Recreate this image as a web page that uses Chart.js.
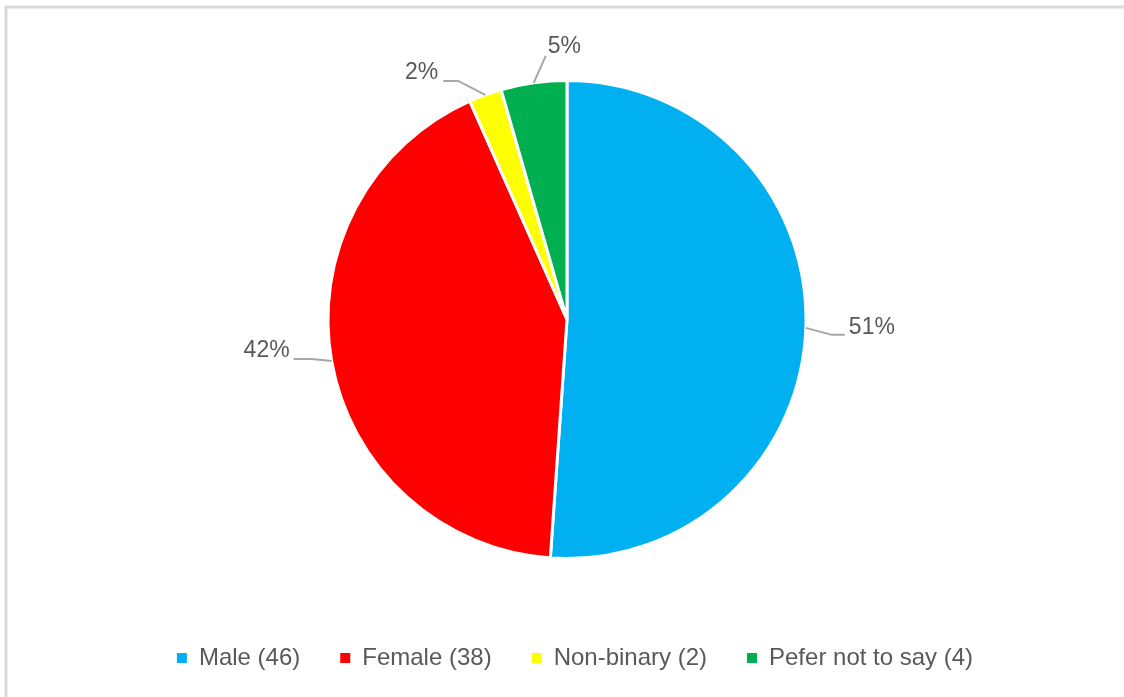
<!DOCTYPE html>
<html>
<head>
<meta charset="utf-8">
<script src="https://cdn.jsdelivr.net/npm/chart.js@4/dist/chart.umd.min.js"></script>
<style>
  html, body { margin: 0; padding: 0; background: #ffffff; }
  #wrap { width: 1124px; height: 697px; position: relative; }
</style>
</head>
<body>
<div id="wrap"><canvas id="c" width="1124" height="697"></canvas></div>
<script>
// ---- data ----
const categories = ['Male (46)', 'Female (38)', 'Non-binary (2)', 'Pefer not to say (4)'];
const counts = [46, 38, 2, 4];
const percentLabels = ['51%', '42%', '2%', '5%'];
const sliceColors = ['#00B0F0', '#FF0000', '#FFFF00', '#00B050'];

// ---- label leader-line layout (style only) ----
const leaderStyle = [
  { elbow: [26, 7],  end: [13, 0],  text: [4, -7],  align: 'left' },
  { elbow: [-20, -2], end: [-18, 0], text: [-4, -8], align: 'right' },
  { elbow: [-27, -14], end: [-15, 0], text: [-5, -8], align: 'right' },
  { elbow: [12, -27], end: [0, 0],  text: [2, -9],  align: 'left' }
];

const frame = {
  id: 'frame',
  beforeDraw(chart) {
    const ctx = chart.ctx;
    ctx.save();
    ctx.fillStyle = '#ffffff';
    ctx.fillRect(0, 0, chart.width, chart.height);
    ctx.strokeStyle = '#d9d9d9';
    ctx.lineWidth = 3;
    ctx.beginPath();
    ctx.moveTo(6, chart.height);
    ctx.lineTo(6, 7);
    ctx.lineTo(chart.width, 7);
    ctx.stroke();
    ctx.restore();
  }
};

const shiftPie = {
  id: 'shiftPie',
  afterLayout(chart) {
    chart.chartArea.left -= 8;
    chart.chartArea.right -= 8;
  }
};

const pieLabels = {
  id: 'pieLabels',
  afterDatasetsDraw(chart) {
    const ctx = chart.ctx;
    const meta = chart.getDatasetMeta(0);
    ctx.save();
    ctx.font = '23px "Liberation Sans", Arial, sans-serif';
    ctx.fillStyle = '#595959';
    ctx.strokeStyle = '#a6a6a6';
    ctx.lineWidth = 2;
    ctx.textBaseline = 'middle';
    meta.data.forEach((arc, i) => {
      const p = arc.getProps(['x', 'y', 'startAngle', 'endAngle', 'outerRadius'], true);
      const mid = (p.startAngle + p.endAngle) / 2;
      const ax = p.x + Math.cos(mid) * p.outerRadius;
      const ay = p.y + Math.sin(mid) * p.outerRadius;
      const s = leaderStyle[i];
      const ex = ax + s.elbow[0], ey = ay + s.elbow[1];
      const fx = ex + s.end[0], fy = ey + s.end[1];
      ctx.beginPath();
      ctx.moveTo(ax, ay);
      ctx.lineTo(ex, ey);
      ctx.lineTo(fx, fy);
      ctx.stroke();
      ctx.textAlign = s.align;
      ctx.fillText(percentLabels[i], fx + s.text[0], fy + s.text[1]);
    });
    ctx.restore();
  }
};

new Chart(document.getElementById('c'), {
  type: 'pie',
  data: {
    labels: categories,
    datasets: [{
      data: counts,
      backgroundColor: sliceColors,
      borderColor: '#ffffff',
      borderWidth: 3,
      hoverOffset: 0
    }]
  },
  options: {
    responsive: false,
    animation: false,
    devicePixelRatio: 1,
    radius: 239,
    layout: { padding: { top: 33, bottom: 17, left: 26, right: 0 } },
    plugins: {
      tooltip: { enabled: false },
      legend: {
        position: 'bottom',
        labels: {
          boxWidth: 10,
          boxHeight: 10,
          padding: 40,
          color: '#595959',
          font: { family: '"Liberation Sans", Arial, sans-serif', size: 24 },
          generateLabels(chart) {
            const items = Chart.controllers.pie.overrides.plugins.legend.labels.generateLabels(chart);
            items.forEach(it => { it.lineWidth = 0; it.strokeStyle = it.fillStyle; });
            return items;
          }
        }
      }
    }
  },
  plugins: [frame, shiftPie, pieLabels]
});
</script>
</body>
</html>
